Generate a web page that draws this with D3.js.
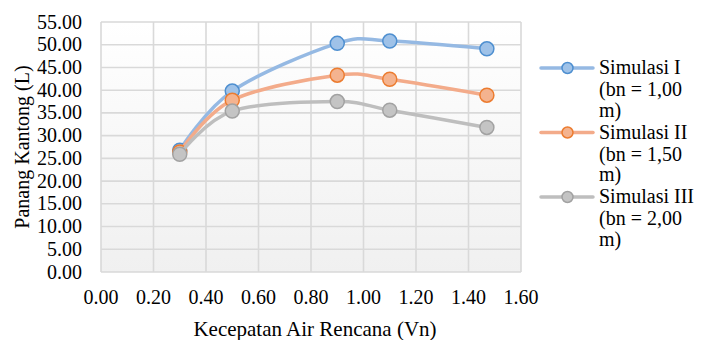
<!DOCTYPE html>
<html lang="en">
<head>
    <meta charset="UTF-8">
    <title>Panang Kantong</title>
    <script src="https://cdn.jsdelivr.net/npm/d3@7"></script>
    <style>
        body { margin: 0; background: #fff; }
    </style>
</head>
<body>
<script>

    // Data ////////////////////////////////////
    var velocity = [0.30, 0.50, 0.90, 1.10, 1.47];
    var simulasi1 = [26.8, 39.8, 50.3, 50.8, 49.1];
    var simulasi2 = [26.4, 37.8, 43.3, 42.4, 38.9];
    var simulasi3 = [25.9, 35.4, 37.5, 35.6, 31.8];
    var seriesNames = ['Simulasi I', 'Simulasi II', 'Simulasi III'];
    var seriesNotes = ['(bn = 1,00', '(bn = 1,50', '(bn = 2,00'];
    var xTicks = [0, 0.2, 0.4, 0.6, 0.8, 1.0, 1.2, 1.4, 1.6];
    var yTicks = [0, 5, 10, 15, 20, 25, 30, 35, 40, 45, 50, 55];

    var colors = [
        {line: '#95b9e3', fill: '#9fc2e8', stroke: '#4e8fd0'},
        {line: '#f3ab8a', fill: '#f4b38f', stroke: '#ec7c30'},
        {line: '#bebebe', fill: '#c4c4c4', stroke: '#a2a2a2'}
    ];

    var FONT = "Liberation Serif, DejaVu Serif, serif";

    //________________________________________________
    // Layout
    //________________________________________________
    var width = 702, height = 340;
    var plot = {left: 101, top: 22, right: 521, bottom: 272};

    var svg = d3.select('body').append('svg').attr('width', width).attr('height', height)
            .style('font-family', FONT).style('font-size', '20px').style('fill', '#000');

    var x = d3.scaleLinear().domain([0, 1.6]).range([plot.left, plot.right]);
    var y = d3.scaleLinear().domain([0, 55]).range([plot.bottom, plot.top]);

    // Plot background gradient
    var grad = svg.append('defs').append('linearGradient')
            .attr('id', 'bg').attr('x1', 0).attr('y1', 0).attr('x2', 0).attr('y2', 1);
    grad.append('stop').attr('offset', '0%').attr('stop-color', '#ffffff');
    grad.append('stop').attr('offset', '100%').attr('stop-color', '#f0f0f0');

    svg.append('rect')
            .attr('x', plot.left).attr('y', plot.top)
            .attr('width', plot.right - plot.left).attr('height', plot.bottom - plot.top)
            .style('fill', 'url(#bg)');

    // Grid
    svg.append('g').selectAll('line.gx').data(xTicks).enter().append('line')
            .attr('x1', function (d) { return x(d); }).attr('x2', function (d) { return x(d); })
            .attr('y1', plot.top).attr('y2', plot.bottom)
            .style('stroke', '#d9d9d9').style('stroke-width', 1.6);
    svg.append('g').selectAll('line.gy').data(yTicks).enter().append('line')
            .attr('y1', function (d) { return y(d); }).attr('y2', function (d) { return y(d); })
            .attr('x1', plot.left).attr('x2', plot.right)
            .style('stroke', '#d9d9d9').style('stroke-width', 1.6);

    // Tick labels
    svg.append('g').selectAll('text').data(yTicks).enter().append('text')
            .attr('x', 82).attr('y', function (d) { return y(d) + 6.5; })
            .attr('text-anchor', 'end')
            .text(function (d) { return d.toFixed(2); });
    svg.append('g').selectAll('text').data(xTicks).enter().append('text')
            .attr('x', function (d) { return x(d); }).attr('y', 304)
            .attr('text-anchor', 'middle')
            .text(function (d) { return d.toFixed(2); });

    // Axis titles
    svg.append('text')
            .attr('x', (plot.left + plot.right) / 2 + 4).attr('y', 336)
            .attr('text-anchor', 'middle').style('font-size', '21px')
            .text('Kecepatan Air Rencana (Vn)');
    svg.append('text')
            .attr('transform', 'translate(29,' + (plot.top + plot.bottom) / 2 + ') rotate(-90)')
            .attr('text-anchor', 'middle')
            .text('Panang Kantong (L)');

    // Series
    var seriesData = [simulasi1, simulasi2, simulasi3].map(function (vals) {
        return vals.map(function (v, i) { return {x: velocity[i], y: v}; });
    });

    var line = d3.line()
            .x(function (d) { return x(d.x); })
            .y(function (d) { return y(d.y); })
            .curve(d3.curveCardinal.tension(0));

    seriesData.forEach(function (pts, s) {
        var g = svg.append('g');
        g.append('path').attr('d', line(pts))
                .style('fill', 'none').style('stroke', colors[s].line)
                .style('stroke-width', 3.5).style('stroke-linecap', 'round');
        g.selectAll('circle').data(pts).enter().append('circle')
                .attr('cx', function (d) { return x(d.x); })
                .attr('cy', function (d) { return y(d.y); })
                .attr('r', 7)
                .style('fill', colors[s].fill).style('stroke', colors[s].stroke).style('stroke-width', 1.5);
    });

    // Legend
    var legend = svg.append('g');
    seriesNames.forEach(function (name, s) {
        var cy = 68 + s * 64.5;
        legend.append('line')
                .attr('x1', 541).attr('x2', 593).attr('y1', cy).attr('y2', cy)
                .style('stroke', colors[s].line).style('stroke-width', 3.5).style('stroke-linecap', 'round');
        legend.append('circle').attr('cx', 567.5).attr('cy', cy).attr('r', 5.5)
                .style('fill', colors[s].fill).style('stroke', colors[s].stroke).style('stroke-width', 1.5);
        var t = legend.append('text').attr('x', 599).attr('y', cy + 6);
        t.append('tspan').attr('x', 599).attr('dy', 0).text(name);
        t.append('tspan').attr('x', 599).attr('dy', 22).text(seriesNotes[s]);
        t.append('tspan').attr('x', 599).attr('dy', 20.5).text('m)');
    });

</script>
</body>
</html>
